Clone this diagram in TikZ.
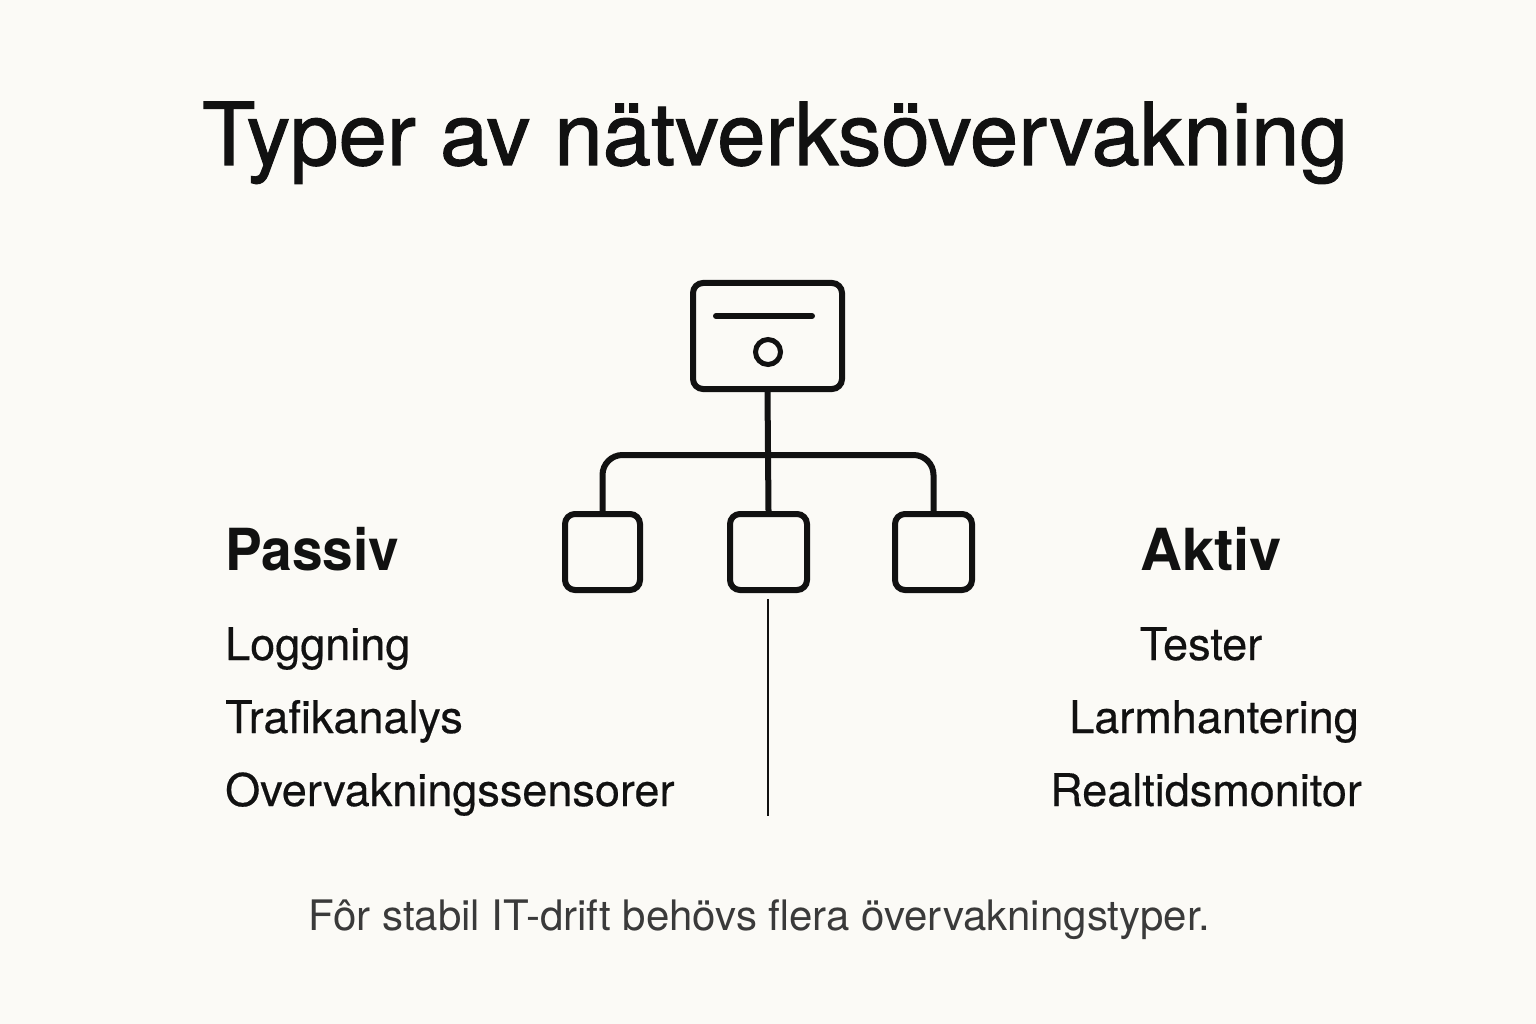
\documentclass[tikz,border=0pt]{standalone}
\usepackage{fontspec}
\setmainfont{TeX Gyre Heros}
\newfontfamily\titlefam[FakeBold=1.2]{TeX Gyre Heros}
\newfontfamily\itemfam[FakeBold=0.4]{TeX Gyre Heros}
\definecolor{bg}{HTML}{FBFAF6}
\definecolor{ink}{HTML}{111111}
\definecolor{foot}{HTML}{3A3A3A}
\begin{document}
\begin{tikzpicture}[x=1pt,y=-1pt,
  box/.style={draw=ink, line width=6pt, rounded corners=10pt, inner sep=0pt},
  conn/.style={draw=ink, line width=6pt},
  txt/.style={inner sep=0pt, text=ink},
  titlefont/.style={font=\titlefam\fontsize{87}{92}\selectfont},
  headfont/.style={font=\fontsize{58}{64}\bfseries\selectfont},
  itemfont/.style={font=\itemfam\fontsize{45}{50}\selectfont},
  footfont/.style={font=\fontsize{42}{48}\selectfont, text=foot}]
\useasboundingbox (0,0) rectangle (1536,1024);
\fill[bg] (0,0) rectangle (1536,1024);
% title
\node[txt, titlefont, anchor=base] (title) at (775,165) {Typer av nätverksövervakning};
% top box
\node[box, minimum width=149pt, minimum height=106pt] (top) at (767.5,336) {};
\coordinate (l1) at (716,316);
\coordinate (l2) at (812,316);
\draw[conn, line cap=round] (l1) -- (l2);
\node[draw=ink, line width=5pt, circle, minimum size=25pt, inner sep=0pt] (dot) at (768,352) {};
% child boxes
\node[box, minimum width=75pt, minimum height=76pt] (bl) at (602.5,552) {};
\node[box, minimum width=77pt, minimum height=76pt] (bm) at (768.5,552) {};
\node[box, minimum width=77pt, minimum height=76pt] (br) at (933.5,552) {};
\coordinate (j) at (768,455);
\draw[conn] (top.south) -- (bm.north);
\draw[conn, rounded corners=20pt] (bl.north) |- (j) -| (br.north);
% thin divider
\coordinate (d1) at (768,599);
\coordinate (d2) at (768,816);
\draw[ink, line width=1.6pt] (d1) -- (d2);
% left column
\node[txt, headfont, anchor=base west, xscale=0.95] (passiv) at (225,570) {Passiv};
\node[txt, itemfont, anchor=base west] (p1) at (225,660) {Loggning};
\node[txt, itemfont, anchor=base west] (p2) at (225,733) {Trafikanalys};
\node[txt, itemfont, anchor=base west] (p3) at (225,806) {Overvakningssensorer};
% right column
\node[txt, headfont, anchor=base west] (aktiv) at (1140,570) {Aktiv};
\node[txt, itemfont, anchor=base] (a1) at (1201,660) {Tester};
\node[txt, itemfont, anchor=base] (a2) at (1214,733) {Larmhantering};
\node[txt, itemfont, anchor=base] (a3) at (1206,806) {Realtidsmonitor};
% footer
\node[txt, footfont, anchor=base] (footer) at (759,930) {Fôr stabil IT-drift behövs flera övervakningstyper.};
\end{tikzpicture}
\end{document}
